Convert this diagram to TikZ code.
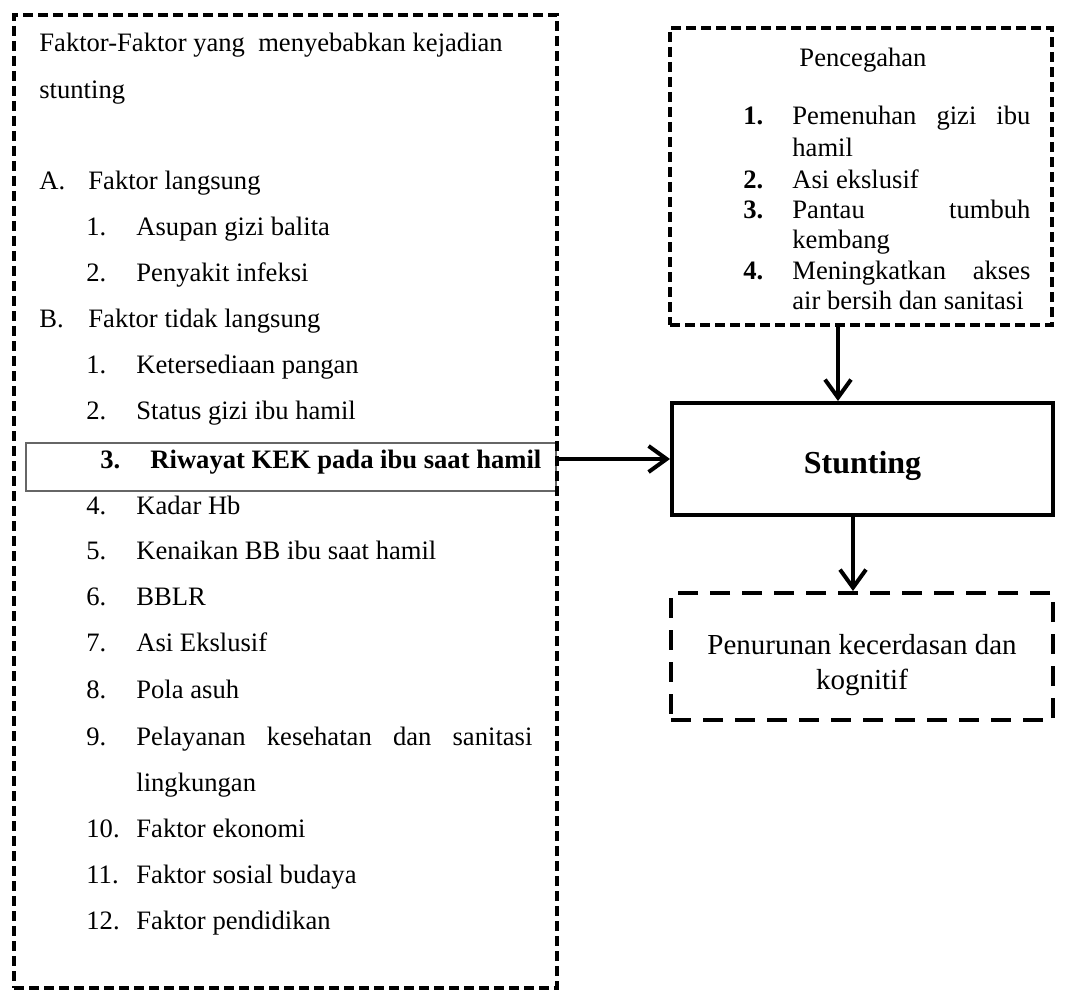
\documentclass[tikz,border=0pt]{standalone}
\usepackage{fontspec}
\setmainfont{Liberation Serif}
\usetikzlibrary{arrows.meta,calc}
\tikzset{
  flowarrow/.style={-{Straight Barb[length=9pt,width=13pt]}, line width=2pt},
  dashbox/.style={draw, line width=2pt, dash pattern=on 5pt off 2.5pt},
  longdashbox/.style={draw, line width=2pt, dash pattern=on 10pt off 6pt, align=center, font=\fontsize{14.5}{17.5}\selectfont},
  stuntbox/.style={draw, line width=2pt, text height=14pt, text depth=0pt, font=\fontsize{16}{19}\selectfont\bfseries},
  markbox/.style={draw=black!60, line width=0.8pt},
  lbl/.style={anchor=west, inner sep=0pt, text height=1.45ex, text depth=0pt},
  boldlbl/.style={lbl, font=\fontsize{13.3}{16}\selectfont\bfseries}
}

\begin{document}
\begin{tikzpicture}[x=0.5pt, y=-0.5pt, every node/.style={font=\fontsize{13.3}{16}\selectfont}]
      \useasboundingbox (0,0) rectangle (1065,990);
      \node[markbox, minimum width=265pt, minimum height=24pt] (riw) at (291,467) {};
      \node[dashbox, minimum width=271.5pt, minimum height=486.5pt] (faktor) at (285.5,501.5) {};
      \node[dashbox, minimum width=191pt, minimum height=148.5pt] (cegah) at (861,176.5) {};
      \node[stuntbox, minimum width=190.5pt, minimum height=56pt] (stunt) at (862.5,459) {Stunting};
      \node[longdashbox, minimum width=191pt, minimum height=63.5pt] (dampak) at (862,656.5) {\rule{0pt}{18.5pt}Penurunan kecerdasan dan\\kognitif};

      \node[lbl] (judul1) at (39,45) {Faktor-Faktor yang\ \ menyebabkan kejadian};
      \node[lbl] (judul2) at (39,92) {stunting};
      \node[lbl] (hA) at (39,183) {A.};
      \node[lbl] (kA) at (88,183) {Faktor langsung};
      \node[lbl] (nA1) at (86,229) {1.};
      \node[lbl] (kA1) at (136,229) {Asupan gizi balita};
      \node[lbl] (nA2) at (86,275) {2.};
      \node[lbl] (kA2) at (136,275) {Penyakit infeksi};
      \node[lbl] (hB) at (39,321) {B.};
      \node[lbl] (kB) at (88,321) {Faktor tidak langsung};
      \node[lbl] (nB1) at (86,367) {1.};
      \node[lbl] (kB1) at (136,367) {Ketersediaan pangan};
      \node[lbl] (nB2) at (86,413) {2.};
      \node[lbl] (kB2) at (136,413) {Status gizi ibu hamil};
      \node[boldlbl] (nB3) at (100,462) {3.};
      \node[boldlbl] (kB3) at (150,462) {Riwayat KEK pada ibu saat hamil};
      \node[lbl] (nB4) at (86,508) {4.};
      \node[lbl] (kB4) at (136,508) {Kadar Hb};
      \node[lbl] (nB5) at (86,553) {5.};
      \node[lbl] (kB5) at (136,553) {Kenaikan BB ibu saat hamil};
      \node[lbl] (nB6) at (86,599) {6.};
      \node[lbl] (kB6) at (136,599) {BBLR};
      \node[lbl] (nB7) at (86,645) {7.};
      \node[lbl] (kB7) at (136,645) {Asi Ekslusif};
      \node[lbl] (nB8) at (86,692) {8.};
      \node[lbl] (kB8) at (136,692) {Pola asuh};
      \node[lbl] (nB9) at (86,739) {9.};
      \node[lbl] (kB9) at (136,739) {\makebox[198pt][s]{Pelayanan kesehatan dan sanitasi}};
      \node[lbl] (kB9b) at (136,785) {lingkungan};
      \node[lbl] (nB10) at (86,831) {10.};
      \node[lbl] (kB10) at (136,831) {Faktor ekonomi};
      \node[lbl] (nB11) at (86,877) {11.};
      \node[lbl] (kB11) at (136,877) {Faktor sosial budaya};
      \node[lbl] (nB12) at (86,923) {12.};
      \node[lbl] (kB12) at (136,923) {Faktor pendidikan};

      \node[lbl, anchor=center] (cjudul) at (863,60) {Pencegahan};
      \node[boldlbl] (nC1) at (743,118) {1.};
      \node[lbl] (kC1) at (792,118) {\makebox[119pt][s]{Pemenuhan gizi ibu}};
      \node[lbl] (kC1b) at (792,150) {hamil};
      \node[boldlbl] (nC2) at (743,182) {2.};
      \node[lbl] (kC2) at (792,182) {Asi ekslusif};
      \node[boldlbl] (nC3) at (743,212) {3.};
      \node[lbl] (kC3) at (792,212) {\makebox[119pt][s]{Pantau tumbuh}};
      \node[lbl] (kC3b) at (792,242) {kembang};
      \node[boldlbl] (nC4) at (743,273) {4.};
      \node[lbl] (kC4) at (792,273) {\makebox[119pt][s]{Meningkatkan akses}};
      \node[lbl] (kC4b) at (792,303) {air bersih dan sanitasi};

      \coordinate (c1) at ($(cegah.south)+(-23,0)$);
      \coordinate (c2) at ($(stunt.south)+(-9.5,0)$);
      \draw[flowarrow] (riw.east |- stunt.west) -- (stunt.west);
      \draw[flowarrow] (c1) -- (c1 |- stunt.north);
      \draw[flowarrow] (c2) -- (c2 |- dampak.north);
    \end{tikzpicture}
\end{document}
